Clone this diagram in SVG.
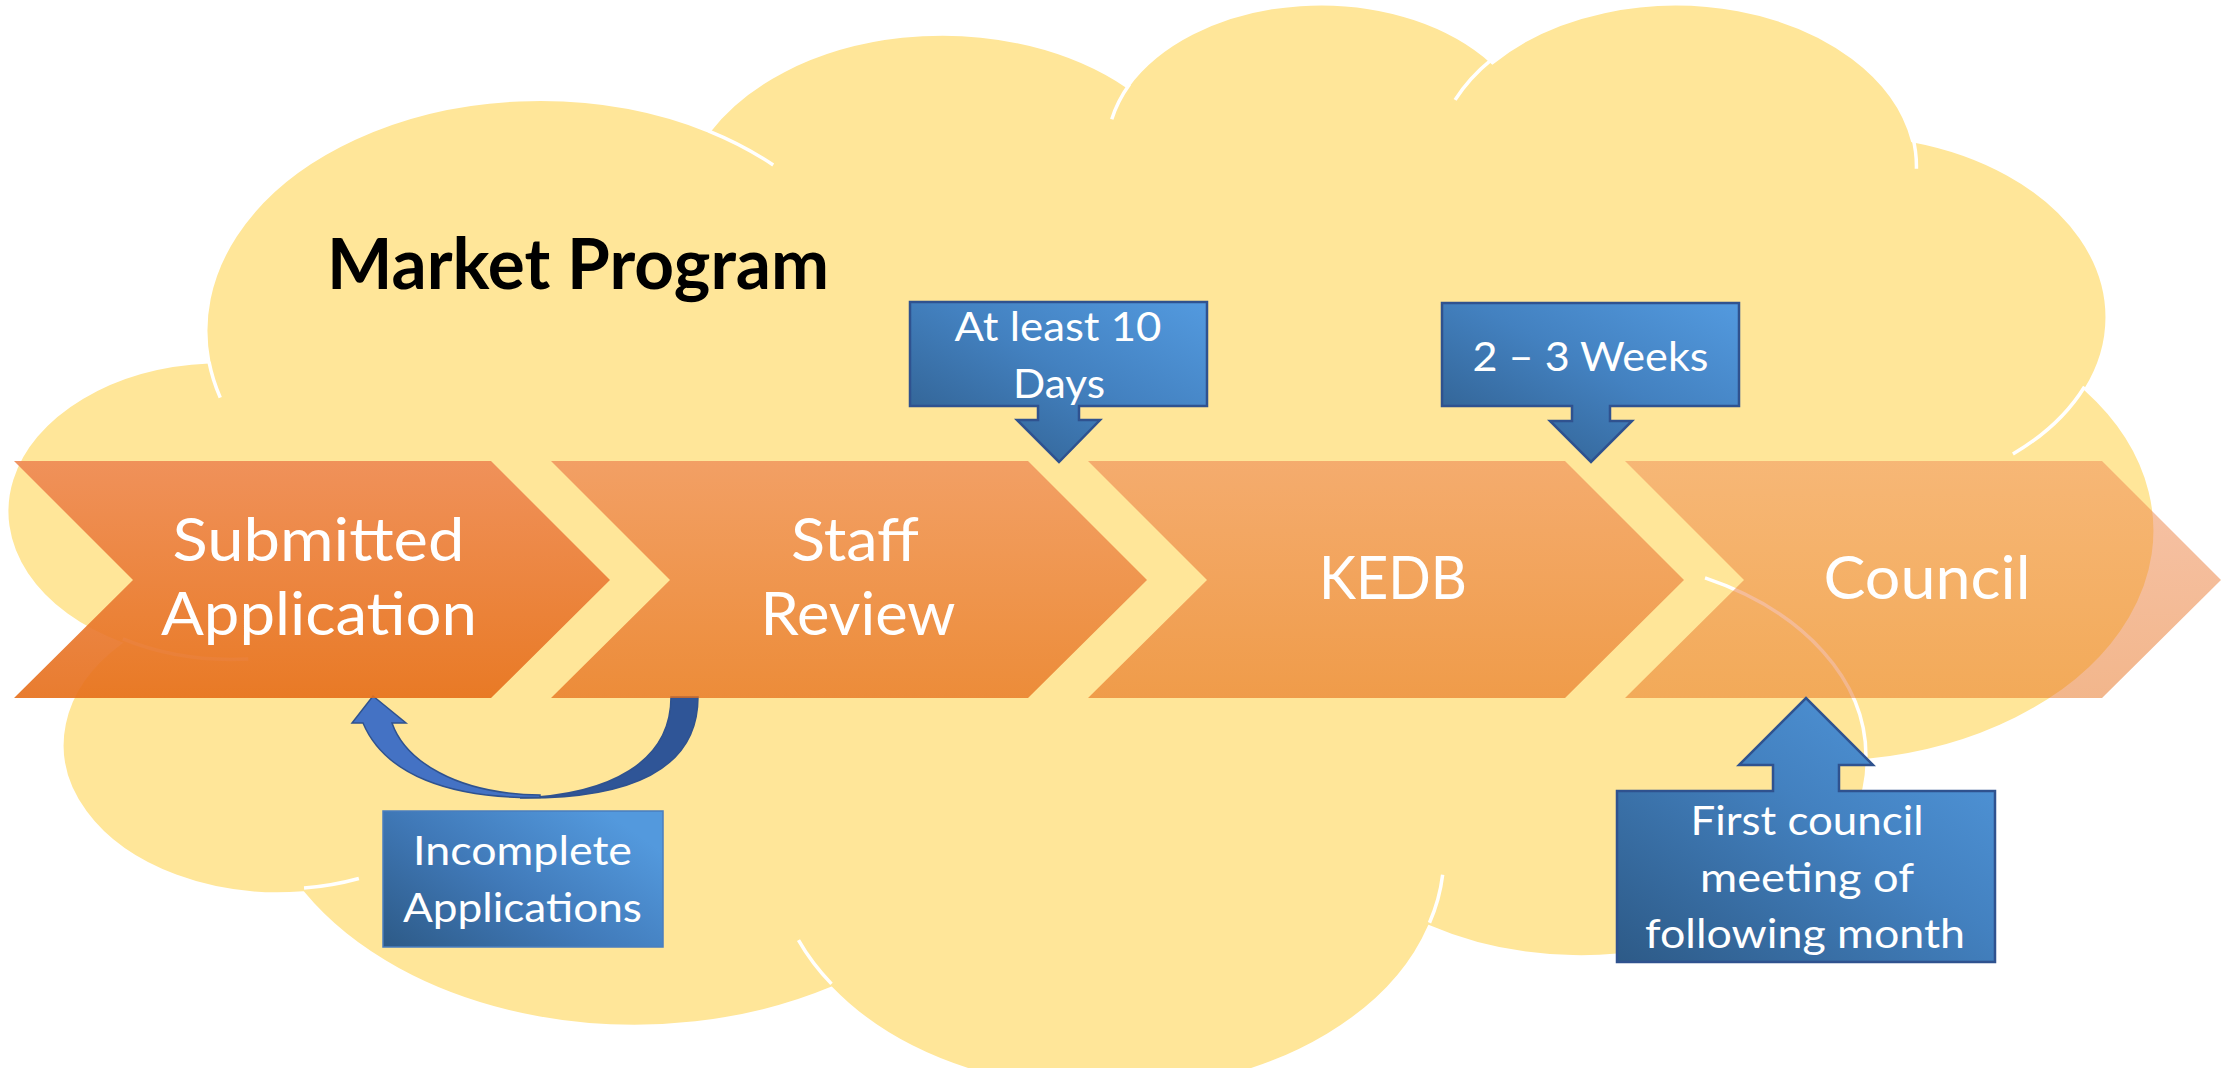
<svg xmlns="http://www.w3.org/2000/svg" width="2226" height="1068" viewBox="0 0 2226 1068">
<style>
.cloud{fill:#FFE699;stroke:#FFFFFF;stroke-width:3;vector-effect:non-scaling-stroke}
.cloudline{fill:none;stroke:#FFFFFF;stroke-width:3.5;vector-effect:non-scaling-stroke}
.chev{fill:url(#gChev)}
.ctext{font-family:Lato,"Open Sans","Liberation Sans",sans-serif;font-size:60px;fill:#FFFFFF;text-anchor:middle}
.btext{font-family:Lato,"Open Sans","Liberation Sans",sans-serif;font-size:40.5px;fill:#FFFFFF;text-anchor:middle}
.callout{fill:url(#gBlue);stroke:#2F528F;stroke-width:2.5}
.title{font-family:Lato,"Open Sans","Liberation Sans",sans-serif;font-size:70px;font-weight:700;fill:#000000;text-anchor:middle}
</style>
<defs>
<linearGradient id="gChev" gradientUnits="userSpaceOnUse" x1="0" y1="461" x2="0" y2="698">
<stop offset="0" stop-color="#EE8853"/>
<stop offset="1" stop-color="#E66E19"/>
</linearGradient>
<linearGradient id="gBlue" x1="0" y1="1" x2="1" y2="0">
<stop offset="0" stop-color="#2D5A87"/>
<stop offset="0.55" stop-color="#4381C0"/>
<stop offset="1" stop-color="#539ADF"/>
</linearGradient>
<linearGradient id="gBlue2" x1="0" y1="1" x2="1" y2="0.3">
<stop offset="0" stop-color="#2D5A87"/>
<stop offset="0.5" stop-color="#4079B8"/>
<stop offset="1" stop-color="#5399DD"/>
</linearGradient>
</defs>

<g id="cloud" transform="translate(16,0.4) scale(0.04949,0.02516)">
<path class="cloud" d="M3900 14370 A6753 9190 0 0 1 14005.5 5202.6 A5333 7267 0 0 1 22456.4 3433.3 A4365 5945 0 0 1 29833.2 2481.8 A4857 6595 0 0 1 38318.4 5577.2 A5333 7273 0 0 1 41818.8 15461 A6775 9220 0 0 1 37403.1 30202.5 A5785 7867 0 0 1 28554.4 36812.3 A6752 9215 0 0 1 16477.8 39261.9 A7720 10543 0 0 1 5801.4 35467.5 A4360 5918 0 0 1 2110.6 25545 A4345 5945 0 0 1 3900 14370 Z"/>
<path class="cloudline" d="M4693 26177 A4345 5945 0 0 1 2159 25379 M6928 34899 A4360 5918 0 0 1 5820 35280 M16478 39090 A6752 9215 0 0 1 15811 37352 M28827 34751 A6752 9215 0 0 1 28561 36660 M34129 22954 A5785 7867 0 0 1 37380 30089 M41798 15354 A5333 7273 0 0 1 40350 18030 M38324 5426 A4857 6595 0 0 1 38400 6690 M29078 3952 A4857 6595 0 0 1 29820 2341 M22141 4720 A4365 5945 0 0 1 22500 3330 M14000 5192 A6753 9190 0 0 1 15300 6540 M4127 15789 A6753 9190 0 0 1 3900 14370"/>
</g>

<g id="title">
<text class="title" x="578" y="289" textLength="502" lengthAdjust="spacingAndGlyphs">Market Program</text>
</g>

<g id="connectors">
<path d="M671 697 H698 C698 770 630 799 520 798 C610 795 671 762 671 697 Z" fill="#2F5597" stroke="#2F528F" stroke-width="1.5"/>
<path d="M540 797.5 C450 799 385 775 363 723 H352 L373 696 L406 723 H392 C405 760 455 794 540 795 Z" fill="#4472C4" stroke="#2F528F" stroke-width="1.5"/>
</g>

<g id="node-submitted">
<polygon class="chev" fill-opacity="0.9" points="14,461 491,461 610,580 491,698 14,698 133,580"/>
<text class="ctext" x="318.5" y="561" textLength="292" lengthAdjust="spacingAndGlyphs">Submitted</text>
<text class="ctext" x="319" y="635" textLength="316" lengthAdjust="spacingAndGlyphs">Application</text>
</g>

<g id="node-staff">
<polygon class="chev" fill-opacity="0.75" points="551,461 1028,461 1147,580 1028,698 551,698 670,580"/>
<text class="ctext" x="855" y="561" textLength="128" lengthAdjust="spacingAndGlyphs">Staff</text>
<text class="ctext" x="858" y="635" textLength="195" lengthAdjust="spacingAndGlyphs">Review</text>
</g>

<g id="node-kedb">
<polygon class="chev" fill-opacity="0.62" points="1088,461 1565,461 1684,580 1565,698 1088,698 1207,580"/>
<text class="ctext" x="1393" y="599" textLength="148" lengthAdjust="spacingAndGlyphs">KEDB</text>
</g>

<g id="node-council">
<polygon class="chev" fill-opacity="0.5" points="1625,461 2102,461 2221,580 2102,698 1625,698 1744,580"/>
<text class="ctext" x="1927" y="599" textLength="207" lengthAdjust="spacingAndGlyphs">Council</text>
</g>

<g id="node-days">
<path class="callout" d="M910 302 H1207 V406 H1079 V420 H1100 L1059 462 L1017 420 H1038 V406 H910 Z"/>
<text class="btext" x="1058" y="341" textLength="207" lengthAdjust="spacingAndGlyphs">At least 10</text>
<text class="btext" x="1059" y="398" textLength="92" lengthAdjust="spacingAndGlyphs">Days</text>
</g>

<g id="node-weeks">
<path class="callout" d="M1442 303 H1739 V406 H1610 V421 H1632 L1591 462 L1550 421 H1572 V406 H1442 Z"/>
<text class="btext" x="1590.5" y="371" textLength="236" lengthAdjust="spacingAndGlyphs">2 – 3 Weeks</text>
</g>

<g id="node-first-council">
<path class="callout" d="M1617 791 H1773 V765 H1739 L1806 698 L1873 765 H1839 V791 H1995 V962 H1617 Z"/>
<text class="btext" x="1807" y="835" textLength="233" lengthAdjust="spacingAndGlyphs">First council</text>
<text class="btext" x="1807" y="892" textLength="214" lengthAdjust="spacingAndGlyphs">meeting of</text>
<text class="btext" x="1805" y="948" textLength="320" lengthAdjust="spacingAndGlyphs">following month</text>
</g>

<g id="node-incomplete">
<rect x="383" y="811" width="280" height="136" fill="url(#gBlue2)" stroke="#4A7EBF" stroke-width="1.5"/>
<text class="btext" x="522.5" y="865" textLength="219" lengthAdjust="spacingAndGlyphs">Incomplete</text>
<text class="btext" x="522.5" y="922" textLength="239" lengthAdjust="spacingAndGlyphs">Applications</text>
</g>
</svg>
